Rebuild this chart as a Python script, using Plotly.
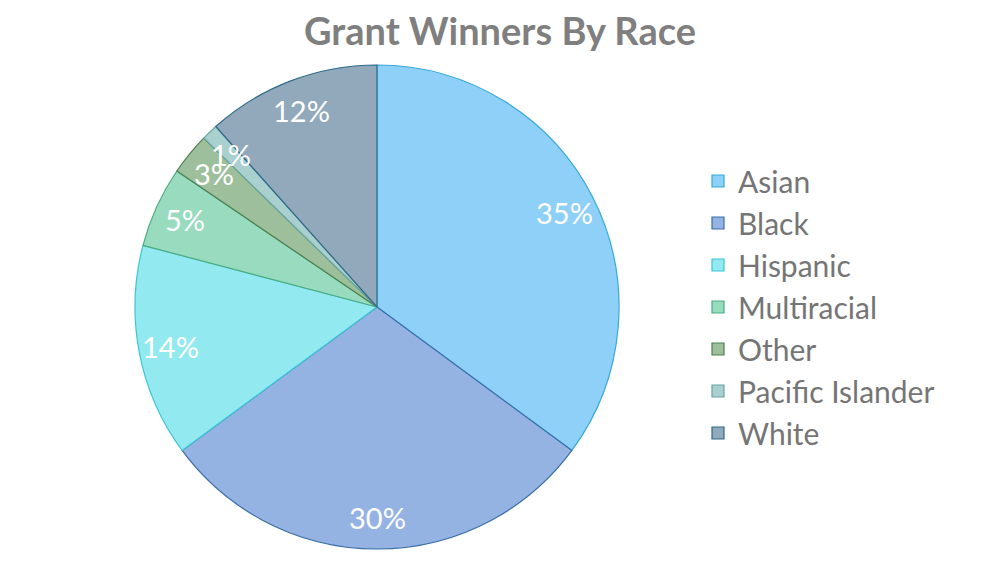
import math
import plotly.graph_objects as go

# Données
races = ["Asian", "Black", "Hispanic", "Multiracial", "Other", "Pacific Islander", "White"]
shares = [35.1, 29.8, 14.2, 5.4, 2.8, 1.1, 11.6]

fill_colors = ["#8ed0f8", "#94b3e3", "#93e9f0", "#98dbbf", "#9dbf9c", "#a9d0cf", "#91a9bb"]
line_colors = ["#35a9dc", "#3b6fa8", "#3cc6d6", "#4aad80", "#4d8150", "#6aa6a6", "#2e6a8a"]

W, H = 1000, 563
# la page ajoute une marge de 8 px, on compense
CX, CY, R = 369, 299, 242  # centre et rayon du camembert en pixels

fig = go.Figure(go.Pie(
    labels=races,
    values=shares,
    sort=False,
    direction="clockwise",
    rotation=0,
    textinfo="none",
    hoverinfo="label+percent",
    marker=dict(colors=fill_colors, line=dict(color=line_colors, width=1.2)),
    domain=dict(x=[(CX - R) / W, (CX + R) / W],
                y=[(H - CY - R) / H, (H - CY + R) / H]),
))

# étiquettes en % placées au milieu de chaque secteur
total = sum(shares)
cum = 0
for v in shares:
    mid = (cum + v / 2) / total * 2 * math.pi
    cum += v
    px_x = CX + 0.87 * R * math.sin(mid)
    px_y = CY - 0.87 * R * math.cos(mid)
    fig.add_annotation(
        x=px_x / W, y=1 - px_y / H, xref="paper", yref="paper",
        xanchor="center", yanchor="middle",
        text=f"{round(v / total * 100)}%", showarrow=False,
        font=dict(family="Lato", size=29, color="white"),
    )

fig.update_layout(
    width=W,
    height=H,
    margin=dict(l=0, r=0, t=0, b=0),
    paper_bgcolor="white",
    title=dict(
        text="<b>Grant Winners By Race</b>",
        x=0.492, xanchor="center", y=1 - 24 / H, yanchor="middle",
        font=dict(family="Lato", size=38, color="#7f7f7f"),
    ),
    legend=dict(
        x=0.69, y=1 - 147 / H, xanchor="left", yanchor="top",
        font=dict(family="Lato", size=30, color="#757575"),
        bgcolor="rgba(0,0,0,0)",
    ),
)

fig.write_html("out.html")
